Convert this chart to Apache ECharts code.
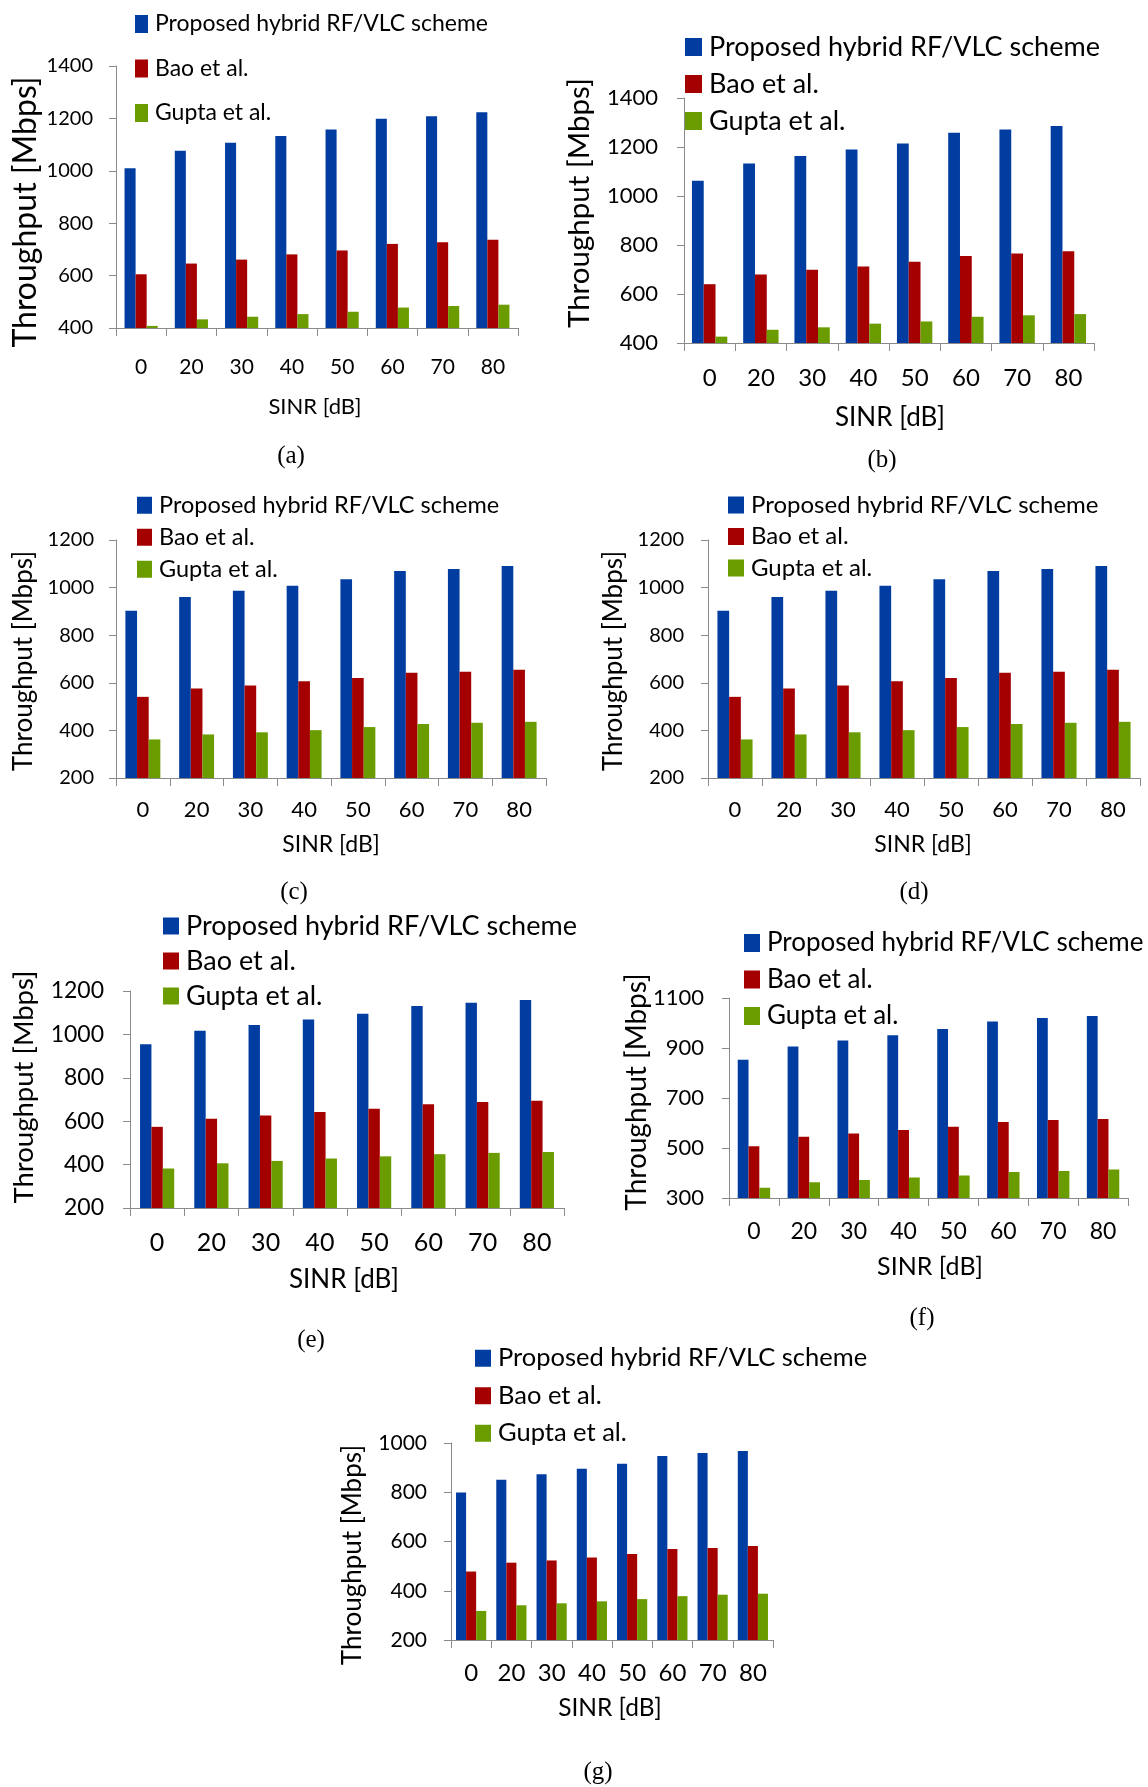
<!DOCTYPE html>
<html>
<head>
<meta charset="utf-8">
<script src="https://cdn.jsdelivr.net/npm/echarts@6/dist/echarts.min.js"></script>
<style>
  html, body { margin: 0; padding: 0; background: #ffffff; }
  #chart { width: 1148px; height: 1787px; }
</style>
</head>
<body>
<div id="chart"></div>
<script>
// ---------------- DATA ----------------
const categories = ['0', '20', '30', '40', '50', '60', '70', '80'];
const seriesNames = ['Proposed hybrid RF/VLC scheme', 'Bao et al.', 'Gupta et al.'];
const xAxisTitle = 'SINR [dB]';
const yAxisTitle = 'Throughput [Mbps]';
const panelCaptions = ['(a)', '(b)', '(c)', '(d)', '(e)', '(f)', '(g)'];

const proposedA = [1010, 1077, 1107, 1133, 1158, 1199, 1208, 1223];
const baoA      = [605, 646, 661, 681, 696, 721, 727, 737];
const guptaA    = [408, 433, 443, 453, 462, 478, 484, 489];
const yTicksA   = [400, 600, 800, 1000, 1200, 1400];

const proposedB = [1062, 1133, 1163, 1190, 1214, 1258, 1271, 1286];
const baoB      = [640, 680, 699, 712, 732, 755, 765, 774];
const guptaB    = [426, 454, 464, 479, 488, 507, 513, 518];
const yTicksB   = [400, 600, 800, 1000, 1200, 1400];

const proposedC = [903, 961, 987, 1008, 1035, 1070, 1078, 1091];
const baoC      = [541, 576, 589, 607, 620, 642, 646, 655];
const guptaC    = [362, 383, 392, 401, 414, 427, 432, 436];
const yTicksC   = [200, 400, 600, 800, 1000, 1200];

const proposedD = [903, 961, 987, 1008, 1035, 1070, 1078, 1091];
const baoD      = [541, 576, 589, 607, 620, 642, 646, 655];
const guptaD    = [362, 383, 392, 401, 414, 427, 432, 436];
const yTicksD   = [200, 400, 600, 800, 1000, 1200];

const proposedE = [955, 1017, 1043, 1069, 1095, 1131, 1146, 1158];
const baoE      = [574, 611, 626, 642, 657, 678, 689, 694];
const guptaE    = [382, 406, 417, 428, 438, 448, 454, 458];
const yTicksE   = [200, 400, 600, 800, 1000, 1200];

const proposedF = [853, 906, 930, 951, 976, 1006, 1020, 1028];
const baoF      = [507, 545, 558, 572, 585, 604, 612, 616];
const guptaF    = [341, 363, 372, 382, 390, 404, 408, 414];
const yTicksF   = [300, 500, 700, 900, 1100];

const proposedG = [799, 851, 873, 895, 916, 947, 959, 968];
const baoG      = [478, 514, 523, 535, 549, 570, 574, 582];
const guptaG    = [318, 341, 349, 357, 366, 378, 384, 388];
const yTicksG   = [200, 400, 600, 800, 1000];

const panelData = [
  [proposedA, baoA, guptaA, yTicksA],
  [proposedB, baoB, guptaB, yTicksB],
  [proposedC, baoC, guptaC, yTicksC],
  [proposedD, baoD, guptaD, yTicksD],
  [proposedE, baoE, guptaE, yTicksE],
  [proposedF, baoF, guptaF, yTicksF],
  [proposedG, baoG, guptaG, yTicksG]
];

// ---------------- LAYOUT / STYLE ----------------
const colors = ['#013DA0', '#A50000', '#6A9C00'];
const axisGray = '#8a8a8a';
const sansFont = "Lato, 'Open Sans', 'Noto Sans', sans-serif";
const serifFont = "'Liberation Serif', 'DejaVu Serif', serif";

const layout = [
  { grid: {left: 116, top: 66, width: 402, height: 262}, catGap: '34%',
    legend: {left: 135, top: 12.5, iw: 13, ih: 18, gap: 21.5, fs: 23},
    xfs: 21, xm: 28.5, yfs: 20, ym: 23,
    yname: {x: 26, y: 212, fs: 32}, xname: {x: 315, y: 407, fs: 22}, cap: {x: 291, y: 456, fs: 25} },
  { grid: {left: 684, top: 98, width: 410, height: 245}, catGap: '31%',
    legend: {left: 685, top: 33.5, iw: 17, ih: 18, gap: 10, fs: 27},
    xfs: 24, xm: 23, yfs: 22, ym: 26,
    yname: {x: 579, y: 203, fs: 29.5}, xname: {x: 890, y: 418, fs: 26}, cap: {x: 882, y: 460, fs: 25} },
  { grid: {left: 116, top: 540, width: 430, height: 238}, catGap: '35%',
    legend: {left: 137, top: 493.25, iw: 15, ih: 17, gap: 8, fs: 23.5},
    xfs: 22, xm: 21, yfs: 20, ym: 22,
    yname: {x: 24, y: 661, fs: 26}, xname: {x: 331, y: 845, fs: 23}, cap: {x: 294, y: 892, fs: 25} },
  { grid: {left: 708, top: 540, width: 432, height: 238}, catGap: '35%',
    legend: {left: 728, top: 493, iw: 16, ih: 17, gap: 7.5, fs: 24},
    xfs: 22, xm: 21, yfs: 20, ym: 24,
    yname: {x: 614, y: 661, fs: 26}, xname: {x: 923, y: 845, fs: 23}, cap: {x: 914, y: 892, fs: 25} },
  { grid: {left: 130, top: 991, width: 434, height: 217}, catGap: '37%',
    legend: {left: 163, top: 912.5, iw: 16, ih: 17, gap: 8, fs: 27},
    xfs: 25, xm: 22.5, yfs: 23, ym: 26,
    yname: {x: 24, y: 1087, fs: 27.5}, xname: {x: 344, y: 1280, fs: 26}, cap: {x: 311, y: 1340, fs: 25} },
  { grid: {left: 729, top: 998, width: 399, height: 200}, catGap: '35%',
    legend: {left: 744, top: 930, iw: 16, ih: 18, gap: 10.5, fs: 26},
    xfs: 23, xm: 22.5, yfs: 22, ym: 25,
    yname: {x: 637, y: 1092, fs: 28}, xname: {x: 930, y: 1267, fs: 25}, cap: {x: 922, y: 1318, fs: 25} },
  { grid: {left: 451, top: 1443, width: 322, height: 197}, catGap: '25%',
    legend: {left: 475, top: 1345.25, iw: 16, ih: 17, gap: 11.5, fs: 25.5},
    xfs: 24, xm: 21, yfs: 21, ym: 24,
    yname: {x: 353, y: 1555, fs: 26}, xname: {x: 610, y: 1708, fs: 24.5}, cap: {x: 598, y: 1772, fs: 25} }
];

// ---------------- BUILD OPTION ----------------
const grids = [], xAxes = [], yAxes = [], legends = [], series = [], graphics = [];

layout.forEach((L, i) => {
  const [prop, bao, gupta, yTicks] = panelData[i];
  grids.push(Object.assign({containLabel: false}, L.grid));

  xAxes.push({
    type: 'category', gridIndex: i, data: categories,
    axisLine: {show: true, onZero: false, lineStyle: {color: axisGray, width: 1}},
    axisTick: {show: true, length: 8, alignWithLabel: false, lineStyle: {color: axisGray}},
    axisLabel: {interval: 0, fontSize: L.xfs, lineHeight: L.xfs, margin: L.xm, color: '#000', fontFamily: sansFont},
    splitLine: {show: false}
  });

  const yMin = yTicks[0], yMax = yTicks[yTicks.length - 1];
  yAxes.push({
    type: 'value', gridIndex: i,
    min: yMin, max: yMax, interval: yTicks[1] - yTicks[0],
    axisLine: {show: true, lineStyle: {color: axisGray, width: 1}},
    axisTick: {show: true, length: 7, lineStyle: {color: axisGray}},
    axisLabel: {fontSize: L.yfs, margin: L.ym, color: '#000', fontFamily: sansFont,
                formatter: (v) => String(v)},
    splitLine: {show: false}
  });

  legends.push({
    orient: 'vertical', left: L.legend.left, top: L.legend.top, padding: 0,
    itemWidth: L.legend.iw, itemHeight: L.legend.ih, itemGap: L.legend.gap,
    icon: 'rect', data: seriesNames, selectedMode: false,
    textStyle: {fontSize: L.legend.fs, color: '#000', fontFamily: sansFont, padding: [0, 0, 0, 2]}
  });

  [prop, bao, gupta].forEach((vals, s) => {
    series.push({
      type: 'bar', name: seriesNames[s], xAxisIndex: i, yAxisIndex: i,
      data: vals, barGap: '0%', barCategoryGap: L.catGap,
      itemStyle: {color: colors[s]}, animation: false
    });
  });

  graphics.push({
    type: 'text', x: L.yname.x, y: L.yname.y, rotation: Math.PI / 2,
    style: {text: yAxisTitle, fill: '#000', fontSize: L.yname.fs, fontFamily: sansFont,
            textAlign: 'center', textVerticalAlign: 'middle', align: 'center', verticalAlign: 'middle'}
  });
  graphics.push({
    type: 'text', x: L.xname.x, y: L.xname.y,
    style: {text: xAxisTitle, fill: '#000', fontSize: L.xname.fs, fontFamily: sansFont,
            textAlign: 'center', textVerticalAlign: 'middle', align: 'center', verticalAlign: 'middle'}
  });
  graphics.push({
    type: 'text', x: L.cap.x, y: L.cap.y,
    style: {text: panelCaptions[i], fill: '#000', fontSize: L.cap.fs, fontFamily: serifFont,
            textAlign: 'center', textVerticalAlign: 'middle', align: 'center', verticalAlign: 'middle'}
  });
});

const chart = echarts.init(document.getElementById('chart'), null, {renderer: 'canvas', width: 1148, height: 1787});
chart.setOption({
  backgroundColor: '#ffffff',
  animation: false,
  color: colors,
  grid: grids,
  xAxis: xAxes,
  yAxis: yAxes,
  legend: legends,
  series: series,
  graphic: graphics
});
</script>
</body>
</html>
